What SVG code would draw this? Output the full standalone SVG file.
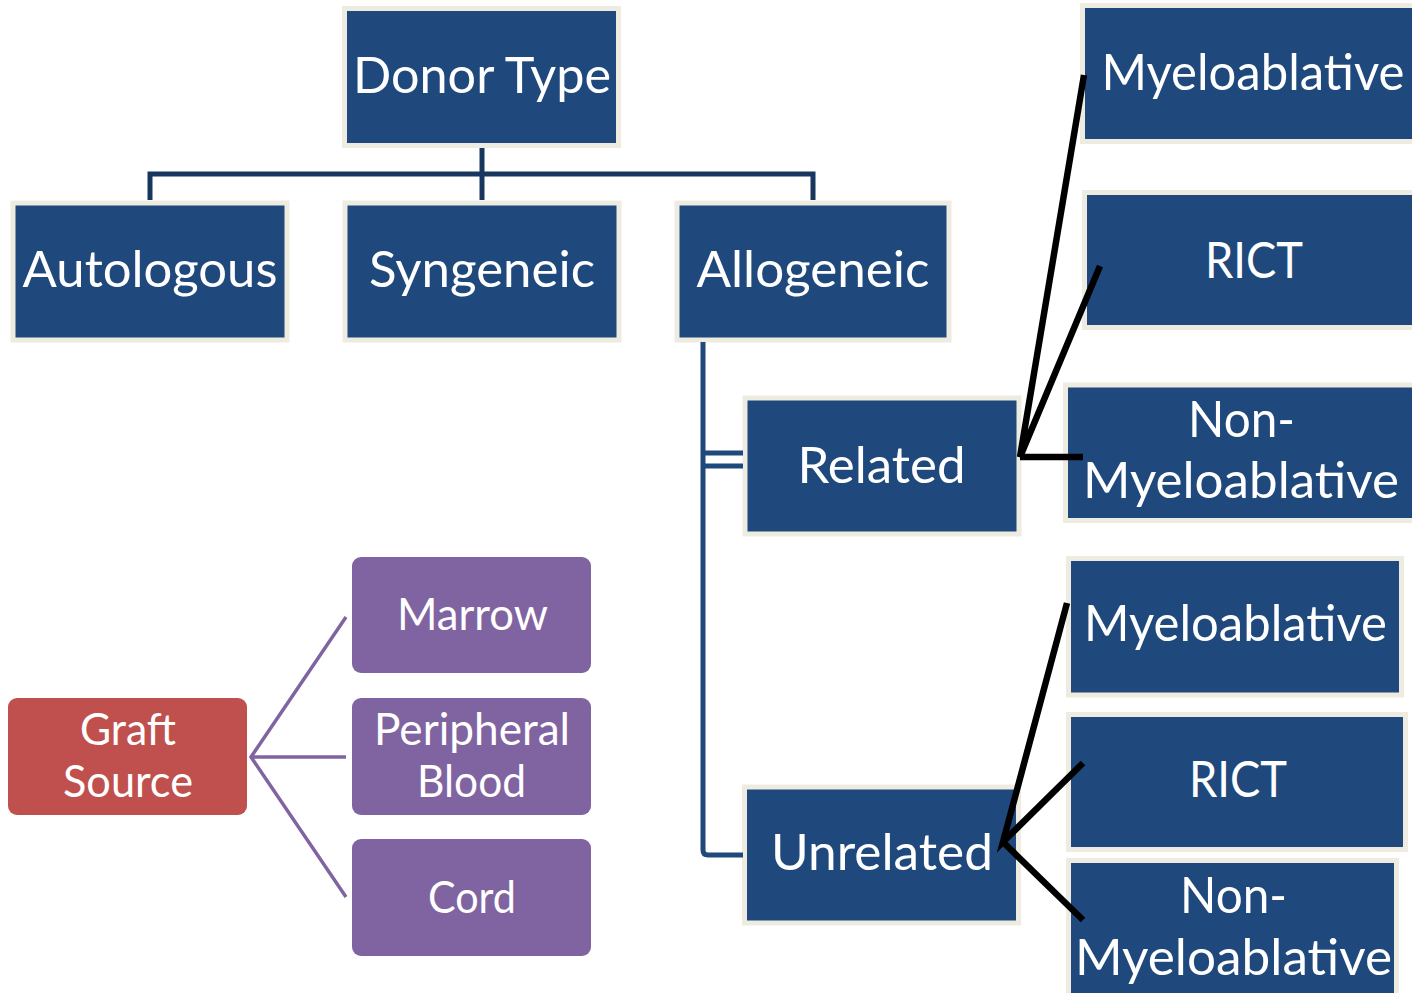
<svg xmlns="http://www.w3.org/2000/svg" width="1412" height="993" viewBox="0 0 1412 993">
  <style>
    .box { fill: #1F497D; stroke: #EEECE1; stroke-width: 5; }
    .red { fill: #C0504D; }
    .purple { fill: #8064A2; }
    .lbl { font-family: Lato, "Open Sans", sans-serif; fill: #FFFFFF; text-anchor: middle; font-size: 50px; }
    .sm { font-size: 44px; }
    .tree { fill: none; stroke: #17375E; stroke-width: 5; }
    .branch { fill: none; stroke: #1F497D; stroke-width: 5; }
    .black { fill: none; stroke: #000000; stroke-width: 6.5; }
    .graft { fill: none; stroke: #8064A2; stroke-width: 3.5; }
  </style>
  <rect width="1412" height="993" fill="#FFFFFF"/>

  <!-- donor type tree -->
  <g id="donor-type">
    <rect class="box" x="344.5" y="8.5" width="274" height="137"/>
    <text class="lbl" x="482" y="93" textLength="258" lengthAdjust="spacingAndGlyphs">Donor Type</text>
  </g>
  <g id="autologous">
    <rect class="box" x="13" y="203" width="274" height="137"/>
    <text class="lbl" x="150" y="287" textLength="255" lengthAdjust="spacingAndGlyphs">Autologous</text>
  </g>
  <g id="syngeneic">
    <rect class="box" x="345" y="203" width="274" height="137"/>
    <text class="lbl" x="482" y="287" textLength="226" lengthAdjust="spacingAndGlyphs">Syngeneic</text>
  </g>
  <g id="allogeneic">
    <rect class="box" x="677" y="203" width="272" height="137"/>
    <text class="lbl" x="813" y="287" textLength="233" lengthAdjust="spacingAndGlyphs">Allogeneic</text>
  </g>
  <g id="related">
    <rect class="box" x="745" y="398" width="274" height="136"/>
    <text class="lbl" x="881.5" y="483" textLength="168" lengthAdjust="spacingAndGlyphs">Related</text>
  </g>
  <g id="unrelated">
    <rect class="box" x="744.5" y="787" width="274" height="136"/>
    <text class="lbl" x="882" y="870" textLength="222" lengthAdjust="spacingAndGlyphs">Unrelated</text>
  </g>

  <!-- related conditioning -->
  <g id="related-myeloablative">
    <rect class="box" x="1082.5" y="5.5" width="340" height="136"/>
    <text class="lbl" x="1253" y="90" textLength="303" lengthAdjust="spacingAndGlyphs">Myeloablative</text>
  </g>
  <g id="related-rict">
    <rect class="box" x="1084.5" y="192.5" width="340" height="135"/>
    <text class="lbl" x="1254" y="278" textLength="98" lengthAdjust="spacingAndGlyphs">RICT</text>
  </g>
  <g id="related-non-myeloablative">
    <rect class="box" x="1065.5" y="385" width="350" height="135.5"/>
    <text class="lbl" x="1241.5" y="437" textLength="107" lengthAdjust="spacingAndGlyphs">Non-</text>
    <text class="lbl" x="1241" y="498" textLength="316" lengthAdjust="spacingAndGlyphs">Myeloablative</text>
  </g>

  <!-- unrelated conditioning -->
  <g id="unrelated-myeloablative">
    <rect class="box" x="1068.5" y="558.5" width="333" height="136.5"/>
    <text class="lbl" x="1235.5" y="641" textLength="303" lengthAdjust="spacingAndGlyphs">Myeloablative</text>
  </g>
  <g id="unrelated-rict">
    <rect class="box" x="1068.5" y="714.5" width="337" height="135"/>
    <text class="lbl" x="1238" y="797" textLength="98" lengthAdjust="spacingAndGlyphs">RICT</text>
  </g>
  <g id="unrelated-non-myeloablative">
    <rect class="box" x="1068.5" y="860.5" width="328" height="150"/>
    <text class="lbl" x="1233.5" y="913" textLength="107" lengthAdjust="spacingAndGlyphs">Non-</text>
    <text class="lbl" x="1233.5" y="975" textLength="317" lengthAdjust="spacingAndGlyphs">Myeloablative</text>
  </g>

  <!-- graft source -->
  <g id="graft-source">
    <rect class="red" x="8" y="698" width="239" height="117" rx="9"/>
    <text class="lbl sm" x="128" y="745" textLength="96" lengthAdjust="spacingAndGlyphs">Graft</text>
    <text class="lbl sm" x="128" y="797" textLength="130" lengthAdjust="spacingAndGlyphs">Source</text>
  </g>
  <g id="marrow">
    <rect class="purple" x="352" y="557" width="239" height="116" rx="9"/>
    <text class="lbl sm" x="472.5" y="630" textLength="151" lengthAdjust="spacingAndGlyphs">Marrow</text>
  </g>
  <g id="peripheral-blood">
    <rect class="purple" x="352" y="698" width="239" height="117" rx="9"/>
    <text class="lbl sm" x="472" y="745" textLength="196" lengthAdjust="spacingAndGlyphs">Peripheral</text>
    <text class="lbl sm" x="471.5" y="797" textLength="109" lengthAdjust="spacingAndGlyphs">Blood</text>
  </g>
  <g id="cord">
    <rect class="purple" x="352" y="839" width="239" height="117" rx="9"/>
    <text class="lbl sm" x="472" y="913" textLength="88" lengthAdjust="spacingAndGlyphs">Cord</text>
  </g>

  <!-- connectors, drawn over the node edges -->
  <g id="connectors">
    <path class="tree" d="M482 148 V200 M150 200 V174 H813 V200"/>
    <path class="branch" d="M703 342 V850 Q703 855 708 855 H743"/>
    <path class="branch" stroke-width="4" d="M703 453 H743 M703 466 H743"/>
    <path class="black" d="M1084 75 L1020 457 L1100 266 M1020 457 H1083"/>
    <path class="black" d="M1067 603 L1003 842 L1083 763 M1003 842 L1083 920"/>
    <path class="graft" d="M346 617 L251 757 L346 897 M251 757 H346"/>
  </g>
</svg>
